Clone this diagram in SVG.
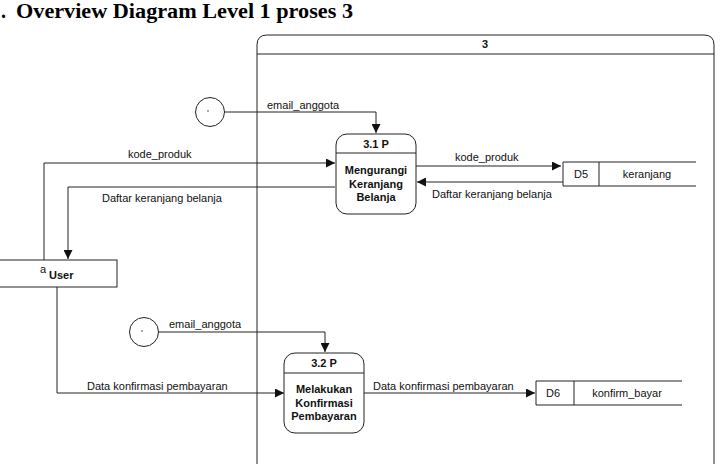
<svg xmlns="http://www.w3.org/2000/svg" width="720" height="464" viewBox="0 0 720 464">
<style>
.ln{fill:none;stroke:#222;stroke-width:1}
.bx{fill:#fff;stroke:#222;stroke-width:1}
.t{font-family:"Liberation Sans",Arial,sans-serif;font-size:11px;fill:#111}
.b{font-family:"Liberation Sans",Arial,sans-serif;font-size:11px;font-weight:bold;fill:#111}
.m{text-anchor:middle}
</style>
<defs>
<marker id="ah" viewBox="0 0 10 10" refX="10" refY="5" markerWidth="9" markerHeight="9" markerUnits="userSpaceOnUse" orient="auto"><path d="M0,0 L10,5 L0,10 z" fill="#111"/></marker>
</defs>
<rect x="0" y="0" width="720" height="464" fill="#fff"/>
<text x="1" y="18" font-family="'Liberation Serif','Times New Roman',serif" font-size="20" font-weight="bold" fill="#000">.</text>
<text x="16" y="18" font-family="'Liberation Serif','Times New Roman',serif" font-size="20" font-weight="bold" fill="#000" textLength="337" lengthAdjust="spacingAndGlyphs">Overview Diagram Level 1 proses 3</text>

<g id="frame3">
<path class="ln" d="M257,464 V45 Q257,35 267,35 H704 Q714,35 714,45 V464"/>
<line class="ln" x1="257" y1="54" x2="714" y2="54"/>
<text class="b m" x="485" y="48" font-size="10">3</text>
</g>

<g id="connectors">
<path class="ln" d="M224,112 H376 V133" marker-end="url(#ah)"/>
<path class="ln" d="M44,260 V163 H335" marker-end="url(#ah)"/>
<path class="ln" d="M335,187 H68 V259" marker-end="url(#ah)"/>
<path class="ln" d="M416,166 H561" marker-end="url(#ah)"/>
<path class="ln" d="M563,182 H417" marker-end="url(#ah)"/>
<path class="ln" d="M158,332 H325 V352" marker-end="url(#ah)"/>
<path class="ln" d="M57,287 V393 H284" marker-end="url(#ah)"/>
<path class="ln" d="M364,393 H535" marker-end="url(#ah)"/>
<text class="t" x="267" y="109">email_anggota</text>
<text class="t" x="128" y="158">kode_produk</text>
<text class="t" x="102" y="202">Daftar keranjang belanja</text>
<text class="t" x="455" y="161">kode_produk</text>
<text class="t" x="432" y="198">Daftar keranjang belanja</text>
<text class="t" x="169" y="328">email_anggota</text>
<text class="t" x="87" y="390">Data konfirmasi pembayaran</text>
<text class="t" x="373" y="390">Data konfirmasi pembayaran</text>
</g>

<g id="ext1">
<circle class="bx" cx="210" cy="112" r="14.5"/>
<circle cx="208" cy="111" r="0.7" fill="#111"/>
</g>
<g id="ext2">
<circle class="bx" cx="144" cy="332" r="14.5"/>
<circle cx="142" cy="331" r="0.7" fill="#111"/>
</g>

<g id="user">
<rect class="bx" x="-1" y="260" width="118" height="27"/>
<text class="t" x="40" y="273" font-size="8">a</text>
<text class="b" x="49" y="279" font-size="13.5">User</text>
</g>

<g id="p31">
<rect class="bx" x="336" y="134" width="80" height="80" rx="11"/>
<line class="ln" x1="336" y1="153" x2="416" y2="153"/>
<text class="b m" x="376" y="148">3.1 P</text>
<text class="b m" x="376" y="174">Mengurangi</text>
<text class="b m" x="376" y="188">Keranjang</text>
<text class="b m" x="376" y="201">Belanja</text>
</g>

<g id="p32">
<rect class="bx" x="284" y="353" width="80" height="80" rx="11"/>
<line class="ln" x1="284" y1="373" x2="364" y2="373"/>
<text class="b m" x="324" y="367">3.2 P</text>
<text class="b m" x="324" y="393">Melakukan</text>
<text class="b m" x="324" y="407">Konfirmasi</text>
<text class="b m" x="324" y="420">Pembayaran</text>
</g>

<g id="d5">
<path class="ln" d="M696,162 H563 V186 H696 M599,162 V186"/>
<text class="t" x="574" y="178">D5</text>
<text class="t m" x="647" y="178">keranjang</text>
</g>

<g id="d6">
<path class="ln" d="M682,381 H536 V405 H682 M574,381 V405"/>
<text class="t" x="546" y="397">D6</text>
<text class="t m" x="627" y="397">konfirm_bayar</text>
</g>
</svg>
